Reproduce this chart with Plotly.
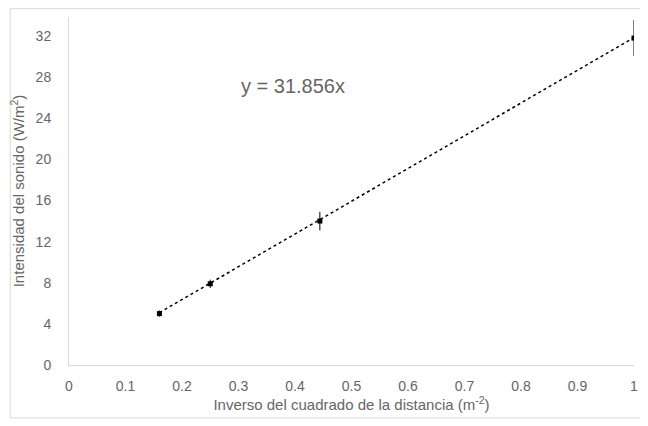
import plotly.graph_objects as go

# inverso del cuadrado de la distancia (1/m^2) y intensidad medida (W/m^2)
inv_dist2 = [0.16, 0.25, 0.444, 1.0]
intensidad = [5.0, 7.9, 14.0, 31.8]
error_int = [0.3, 0.4, 0.9, 1.75]

pendiente = 31.856
x_ajuste = [min(inv_dist2), max(inv_dist2)]
y_ajuste = [pendiente * v for v in x_ajuste]

y_ticks = [0, 4, 8, 12, 16, 20, 24, 28, 32]
x_ticks = [0, 0.1, 0.2, 0.3, 0.4, 0.5, 0.6, 0.7, 0.8, 0.9, 1]
x_labels = ["0", "0.1", "0.2", "0.3", "0.4", "0.5", "0.6", "0.7", "0.8", "0.9", "1"]

GRIS = "#666666"
FUENTE = "Liberation Sans, Arial, sans-serif"

fig = go.Figure()

# linea de tendencia (punteada)
fig.add_trace(go.Scatter(
    x=x_ajuste, y=y_ajuste, mode="lines",
    line=dict(color="black", width=1.5, dash="dot"),
    hoverinfo="skip", showlegend=False
))

fig.add_trace(go.Scatter(
    x=inv_dist2, y=intensidad, mode="markers",
    marker=dict(color="black", size=5, symbol="square"),
    error_y=dict(type="data", array=error_int, color="black",
                 thickness=1, width=0),
    showlegend=False
))

fig.add_annotation(
    x=0.397, y=27.1, xref="x", yref="y",
    text=f"y = {pendiente}x", showarrow=False,
    font=dict(size=20, color=GRIS, family=FUENTE)
)

# borde exterior del grafico
fig.add_shape(
    type="rect", xref="paper", yref="paper",
    x0=-0.104, x1=1.019, y0=-0.152, y1=1.024,
    line=dict(color="#d9d9d9", width=1), layer="below"
)

fig.update_xaxes(
    range=[0, 1.0], tickvals=x_ticks, ticktext=x_labels,
    showgrid=False, zeroline=False,
    showline=True, linecolor="#d9d9d9", linewidth=1,
    tickfont=dict(size=14, color=GRIS, family=FUENTE),
    title=dict(text="Inverso del cuadrado de la distancia (m<sup>-2</sup>)",
               font=dict(size=15, color=GRIS, family=FUENTE), standoff=4),
    ticks="", ticklabelstandoff=8
)
fig.update_yaxes(
    range=[0, 33.85], tickvals=y_ticks,
    showgrid=False, zeroline=False,
    showline=True, linecolor="#d9d9d9", linewidth=1,
    tickfont=dict(size=14, color=GRIS, family=FUENTE),
    title=dict(text="Intensidad del sonido (W/m<sup>2</sup>)",
               font=dict(size=15, color=GRIS, family=FUENTE), standoff=8),
    ticks="", ticklabelstandoff=14
)

fig.update_layout(
    width=648, height=426,
    margin=dict(l=59, r=22, t=9, b=69),
    plot_bgcolor="white", paper_bgcolor="white",
    showlegend=False
)

fig.write_html("out.html")
